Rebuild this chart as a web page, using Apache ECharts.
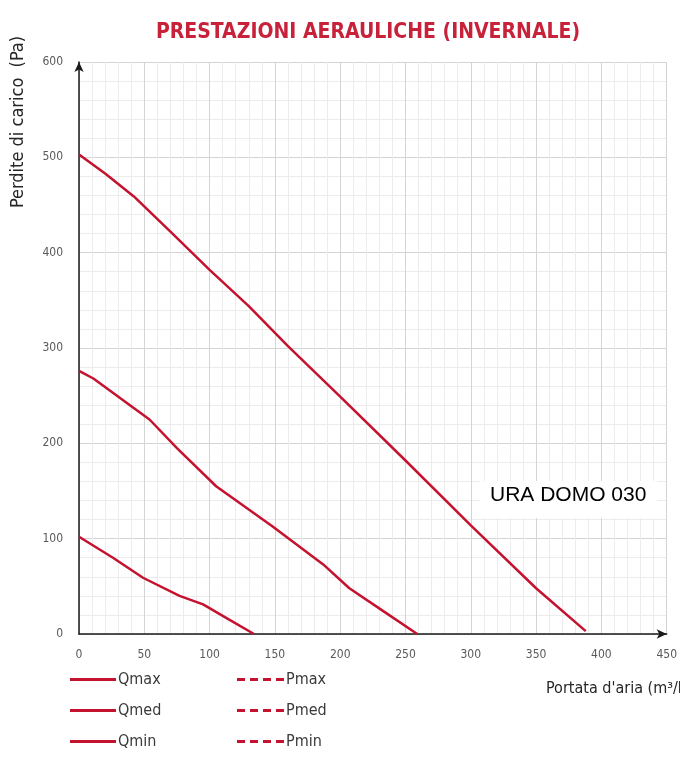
<!DOCTYPE html>
<html>
<head>
<meta charset="utf-8">
<script src="https://cdn.jsdelivr.net/npm/echarts@6/dist/echarts.min.js"></script>
<style>
  html, body { margin: 0; padding: 0; background: #fff; }
  #chart { width: 680px; height: 758px; }
</style>
</head>
<body>
<div id="chart"></div>
<script>
// Pressure drop curves (Pa) vs air flow (m3/h) at the three fan speeds
const qmax = [[0, 503], [20, 483], [42, 459], [70, 422], [100, 382], [130, 344], [160, 302], [200, 249], [250, 182], [300, 114], [350, 48], [388, 3]];
const qmed = [[0, 276], [11, 268], [44, 235], [54, 225], [75, 195], [105, 155], [148, 113], [187, 73], [207, 48], [233, 24], [259, 0]];
const qmin = [[0, 102], [26, 80], [49, 59], [77, 40], [95, 31], [115, 15], [134, 0]];
const seriesNamesQ = ['Qmax', 'Qmed', 'Qmin'];
const seriesNamesP = ['Pmax', 'Pmed', 'Pmin'];

const RED = '#c4122f';
const NARROW = "'Liberation Sans Narrow', 'DejaVu Sans Condensed', 'Liberation Sans', sans-serif";
const SOLID_ICON = 'path://M0,0H46V3H0Z';
const DASH_ICON = 'path://M0,0H8V3H0Z M13,0H21V3H13Z M26,0H34V3H26Z M39,0H47V3H39Z';

const chart = echarts.init(document.getElementById('chart'));

function lineSeries(name, data, dashed) {
  return {
    name: name,
    type: 'line',
    data: data,
    symbol: 'none',
    smooth: false,
    lineStyle: { color: RED, width: 2.5, type: dashed ? 'dashed' : 'solid' },
    itemStyle: { color: RED },
    emphasis: { disabled: true },
    z: 5
  };
}

const legendText = { color: '#3a3a3a', fontSize: 16, lineHeight: 19, fontFamily: NARROW, padding: [0, 0, 0, -3] };

chart.setOption({
  animation: false,
  title: {
    text: 'PRESTAZIONI AERAULICHE (INVERNALE)',
    left: 363,
    textAlign: 'center',
    top: 17,
    textStyle: { color: '#c8213a', fontSize: 21, fontWeight: 'bold', fontFamily: NARROW }
  },
  grid: { left: 79, right: 13, top: 62, bottom: 124 },
  xAxis: {
    type: 'value',
    min: 0, max: 450, interval: 50,
    axisLine: { show: true, onZero: false, symbol: ['none', 'arrow'], symbolSize: [7, 10], lineStyle: { color: '#1a1a1a', width: 1.5 } },
    axisTick: { show: false },
    axisLabel: { color: '#595959', fontSize: 12, fontFamily: NARROW, margin: 15 },
    splitLine: { show: true, lineStyle: { color: '#d4d4d4', width: 1 } },
    minorTick: { show: false, splitNumber: 5 },
    minorSplitLine: { show: true, lineStyle: { color: '#ececec', width: 1 } }
  },
  yAxis: {
    type: 'value',
    min: 0, max: 600, interval: 100,
    axisLine: { show: true, onZero: false, symbol: ['none', 'arrow'], symbolSize: [7, 10], lineStyle: { color: '#1a1a1a', width: 1.5 } },
    axisTick: { show: false },
    axisLabel: { color: '#595959', fontSize: 12, fontFamily: NARROW, margin: 16 },
    splitLine: { show: true, lineStyle: { color: '#d4d4d4', width: 1 } },
    minorTick: { show: false, splitNumber: 5 },
    minorSplitLine: { show: true, lineStyle: { color: '#ececec', width: 1 } }
  },
  legend: [
    {
      data: seriesNamesQ.map(n => ({ name: n, icon: SOLID_ICON })),
      orient: 'vertical',
      left: 70, top: 670, height: 88,
      padding: 0,
      itemWidth: 46, itemHeight: 3, itemGap: 12,
      selectedMode: false,
      itemStyle: { color: RED },
      textStyle: legendText
    },
    {
      data: seriesNamesP.map(n => ({ name: n, icon: DASH_ICON })),
      orient: 'vertical',
      left: 237, top: 670, height: 88,
      padding: 0,
      itemWidth: 47, itemHeight: 3, itemGap: 12,
      selectedMode: false,
      itemStyle: { color: RED },
      textStyle: legendText
    }
  ],
  graphic: [
    {
      type: 'text',
      x: 18, y: 122,
      rotation: Math.PI / 2,
      style: {
        text: 'Perdite di carico  (Pa)',
        fill: '#262626',
        font: "18px " + NARROW,
        textAlign: 'center',
        textVerticalAlign: 'middle'
      }
    },
    {
      type: 'text',
      x: 546, y: 681,
      style: {
        text: "Portata d'aria (m³/h)",
        fill: '#262626',
        font: "16px " + NARROW
      }
    },
    {
      type: 'rect',
      shape: { x: 480, y: 481, width: 177, height: 37 },
      style: { fill: '#ffffff' },
      z: 3
    },
    {
      type: 'text',
      x: 490, y: 485,
      style: {
        text: 'URA DOMO 030',
        fill: '#000000',
        font: "21px 'Liberation Sans', Arial, sans-serif"
      },
      z: 4
    }
  ],
  series: [
    lineSeries('Qmax', qmax, false),
    lineSeries('Qmed', qmed, false),
    lineSeries('Qmin', qmin, false),
    lineSeries('Pmax', [], true),
    lineSeries('Pmed', [], true),
    lineSeries('Pmin', [], true)
  ]
});
</script>
</body>
</html>
